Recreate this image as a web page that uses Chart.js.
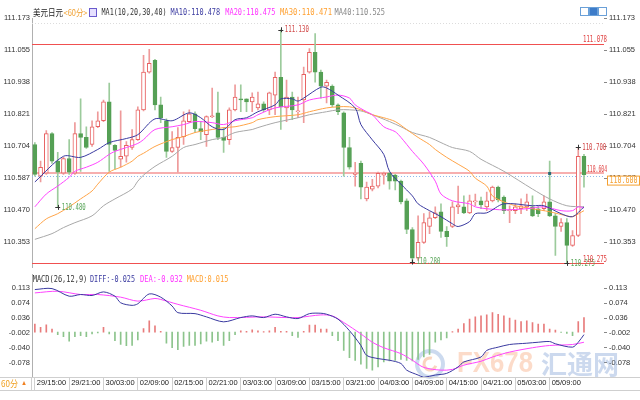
<!DOCTYPE html>
<html>
<head>
<meta charset="utf-8">
<script src="https://cdn.jsdelivr.net/npm/chart.js@4.4.1/dist/chart.umd.min.js"></script>
<style>
  html, body { margin: 0; padding: 0; background: #fff; }
  #wrap { position: relative; width: 640px; height: 400px; overflow: hidden; }
  #kline { position: absolute; left: 0; top: 0; }
  #macd { position: absolute; left: 0; top: 268px; }
</style>
</head>
<body>
<div id="wrap">
  <canvas id="kline" width="640" height="274"></canvas>
  <canvas id="macd" width="640" height="123"></canvas>
</div>
<script>
// 美元日元 60分钟K线
const tickLabels = ['29/15:00', '29/21:00', '30/03:00', '02/09:00', '02/15:00', '02/21:00', '03/03:00', '03/09:00',
  '03/15:00', '03/21:00', '04/03:00', '04/09:00', '04/15:00', '04/21:00', '05/03:00', '05/09:00'];

const opens = [
  110.710, 110.594, 110.605, 110.750, 110.649, 110.605, 110.659, 110.605, 110.750, 110.736,
  110.710, 110.775, 110.797, 110.866, 110.707, 110.656, 110.667, 110.699, 110.728, 110.837,
  110.975, 111.018, 110.855, 110.797, 110.685, 110.699, 110.739, 110.794, 110.822, 110.768,
  110.746, 110.812, 110.826, 110.736, 110.728, 110.837, 110.877, 110.877, 110.866, 110.844,
  110.859, 110.837, 110.891, 110.956, 110.844, 110.884, 110.830, 110.873, 110.975, 111.047,
  110.975, 110.924, 110.924, 110.855, 110.826, 110.699, 110.601, 110.641, 110.511, 110.547,
  110.558, 110.598, 110.605, 110.598, 110.576, 110.504, 110.399, 110.294, 110.352, 110.410,
  110.442, 110.464, 110.392, 110.410, 110.482, 110.482, 110.460, 110.500, 110.504, 110.482,
  110.504, 110.554, 110.518, 110.468, 110.468, 110.475, 110.482, 110.482, 110.475, 110.475,
  110.500, 110.449, 110.410, 110.424, 110.341, 110.377, 110.667];
const highs = [
  110.717, 110.649, 110.761, 110.754, 110.681, 110.663, 110.728, 110.790, 110.877, 110.775,
  110.797, 110.830, 110.873, 110.935, 110.710, 110.833, 110.721, 110.765, 110.848, 111.036,
  111.058, 111.022, 110.884, 110.804, 110.757, 110.772, 110.830, 110.837, 110.830, 110.794,
  110.815, 110.917, 110.902, 110.772, 110.844, 110.928, 110.928, 110.877, 110.899, 110.902,
  110.866, 110.902, 110.975, 111.130, 110.946, 110.902, 110.884, 110.993, 111.061, 111.116,
  110.982, 110.946, 110.928, 110.859, 110.830, 110.736, 110.645, 110.649, 110.573, 110.583,
  110.609, 110.609, 110.609, 110.601, 110.580, 110.511, 110.406, 110.449, 110.457, 110.464,
  110.482, 110.493, 110.410, 110.500, 110.558, 110.522, 110.525, 110.529, 110.518, 110.536,
  110.558, 110.558, 110.522, 110.486, 110.493, 110.511, 110.529, 110.522, 110.486, 110.522,
  110.649, 110.457, 110.439, 110.439, 110.395, 110.700, 110.674];
const lows = [
  110.594, 110.573, 110.601, 110.641, 110.480, 110.601, 110.601, 110.601, 110.612, 110.696,
  110.703, 110.772, 110.794, 110.612, 110.620, 110.627, 110.645, 110.692, 110.725, 110.833,
  110.971, 110.837, 110.790, 110.663, 110.681, 110.609, 110.710, 110.790, 110.754, 110.728,
  110.703, 110.808, 110.728, 110.681, 110.710, 110.833, 110.830, 110.830, 110.830, 110.837,
  110.830, 110.819, 110.819, 110.765, 110.794, 110.801, 110.808, 110.790, 110.971, 110.938,
  110.880, 110.862, 110.848, 110.819, 110.594, 110.620, 110.558, 110.511, 110.504, 110.540,
  110.551, 110.565, 110.547, 110.544, 110.493, 110.384, 110.280, 110.286, 110.348, 110.384,
  110.439, 110.370, 110.337, 110.406, 110.457, 110.457, 110.457, 110.486, 110.475, 110.468,
  110.500, 110.500, 110.457, 110.424, 110.457, 110.457, 110.468, 110.446, 110.446, 110.468,
  110.446, 110.304, 110.392, 110.275, 110.337, 110.373, 110.554];
const closes = [
  110.601, 110.627, 110.750, 110.649, 110.609, 110.659, 110.609, 110.750, 110.736, 110.699,
  110.775, 110.797, 110.866, 110.710, 110.688, 110.667, 110.707, 110.728, 110.837, 110.975,
  111.007, 110.855, 110.808, 110.685, 110.699, 110.736, 110.797, 110.822, 110.768, 110.757,
  110.812, 110.815, 110.736, 110.725, 110.837, 110.884, 110.873, 110.866, 110.884, 110.859,
  110.837, 110.899, 110.956, 110.848, 110.884, 110.837, 110.833, 110.967, 111.047, 110.975,
  110.924, 110.938, 110.855, 110.830, 110.699, 110.627, 110.605, 110.554, 110.554, 110.558,
  110.605, 110.605, 110.576, 110.576, 110.500, 110.399, 110.294, 110.352, 110.424, 110.442,
  110.460, 110.392, 110.373, 110.482, 110.489, 110.460, 110.504, 110.504, 110.489, 110.504,
  110.554, 110.507, 110.468, 110.471, 110.482, 110.486, 110.500, 110.449, 110.457, 110.500,
  110.449, 110.410, 110.424, 110.341, 110.377, 110.667, 110.600];

// 均线读数 [K线序号, 值]
const ma10 = [[0, 110.573], [5, 110.667], [8, 110.663], [11, 110.692], [13, 110.717], [16, 110.732], [18, 110.746],
  [21, 110.804], [24, 110.797], [27, 110.826], [29, 110.808], [31, 110.775], [33, 110.765], [35, 110.801], [37, 110.808],
  [39, 110.830], [42, 110.855], [43, 110.877], [45, 110.877], [46, 110.869], [47, 110.880], [50, 110.920], [51, 110.917],
  [53, 110.891], [56, 110.844], [57, 110.783], [59, 110.727], [61, 110.674], [62, 110.612], [64, 110.565], [66, 110.522],
  [67, 110.493], [69, 110.468], [71, 110.446], [73, 110.420], [74, 110.410], [76, 110.428], [77, 110.457], [79, 110.460],
  [82, 110.493], [87, 110.486], [89, 110.486], [92, 110.457], [94, 110.446], [96, 110.482]];
const ma20 = [[0, 110.482], [2, 110.529], [4, 110.558], [6, 110.590], [7, 110.612], [9, 110.627], [11, 110.645],
  [13, 110.674], [14, 110.685], [16, 110.699], [18, 110.714], [19, 110.728], [21, 110.765], [24, 110.775], [26, 110.783],
  [28, 110.794], [31, 110.790], [33, 110.783], [35, 110.797], [38, 110.808], [39, 110.819], [42, 110.844], [46, 110.855],
  [48, 110.873], [51, 110.884], [53, 110.891], [55, 110.880], [56, 110.855], [58, 110.830], [59, 110.819], [61, 110.775],
  [63, 110.757], [64, 110.736], [66, 110.685], [68, 110.638], [70, 110.576], [71, 110.529], [73, 110.504], [76, 110.493],
  [77, 110.482], [79, 110.475], [82, 110.471], [86, 110.475], [89, 110.482], [92, 110.468], [94, 110.468], [95, 110.482],
  [96, 110.478]];
const ma30 = [[0, 110.402], [2, 110.438], [4, 110.457], [6, 110.482], [8, 110.511], [10, 110.540], [11, 110.565],
  [13, 110.609], [15, 110.627], [17, 110.649], [18, 110.667], [19, 110.678], [21, 110.703], [24, 110.728], [26, 110.739],
  [28, 110.754], [31, 110.765], [33, 110.772], [35, 110.775], [38, 110.790], [39, 110.801], [42, 110.812], [46, 110.819],
  [48, 110.830], [51, 110.844], [53, 110.848], [55, 110.848], [57, 110.837], [59, 110.819], [61, 110.808], [63, 110.794],
  [65, 110.765], [67, 110.736], [69, 110.710], [70, 110.692], [72, 110.663], [74, 110.638], [76, 110.612], [77, 110.587],
  [79, 110.558], [80, 110.522], [82, 110.500], [84, 110.486], [87, 110.475], [90, 110.464], [93, 110.449], [94, 110.446],
  [96, 110.468]];
const ma40 = [[0, 110.363], [3, 110.384], [5, 110.406], [7, 110.424], [10, 110.449], [12, 110.486], [14, 110.511],
  [17, 110.547], [18, 110.576], [19, 110.598], [21, 110.630], [24, 110.667], [26, 110.699], [28, 110.710], [31, 110.728],
  [33, 110.736], [35, 110.754], [38, 110.765], [39, 110.772], [42, 110.790], [46, 110.808], [48, 110.819], [51, 110.830],
  [53, 110.837], [55, 110.837], [57, 110.833], [59, 110.819], [62, 110.794], [64, 110.775], [66, 110.754], [69, 110.736],
  [71, 110.717], [73, 110.699], [76, 110.685], [78, 110.656], [82, 110.612], [87, 110.547], [90, 110.511], [93, 110.486],
  [96, 110.482]];
const maLegend = [110.478, 110.475, 110.471, 110.525];

const priceTicks = [111.173, 111.055, 110.938, 110.821, 110.704, 110.587, 110.470, 110.353];
const rangeHigh = 111.078;
const rangeLow = 110.275;
const lastPrice = 110.604;
const curPrice = 110.600;
// 标注 [K线序号, 高/低点]
const marks = [[43, 'high'], [4, 'low'], [66, 'low'], [93, 'low'], [95, 'high']];

// MACD(26,12,9)
const macdTicks = [0.113, 0.074, 0.036, -0.002, -0.040, -0.078];
const diff = [[0, 0.109], [3, 0.1115], [6, 0.092], [8, 0.0963], [10, 0.0938], [12, 0.103], [14, 0.092], [15, 0.0751],
  [17, 0.0685], [18, 0.0726], [20, 0.0978], [22, 0.0895], [24, 0.0668], [25, 0.0498], [28, 0.0473], [30, 0.039],
  [33, 0.0263], [36, 0.0372], [38, 0.0415], [40, 0.0372], [42, 0.0458], [44, 0.039], [46, 0.0347], [48, 0.0473],
  [50, 0.0483], [51, 0.0458], [53, 0.0332], [55, 0.0036], [57, -0.0343], [58, -0.0596], [60, -0.0679], [62, -0.0722],
  [64, -0.0805], [65, -0.0975], [67, -0.1101], [68, -0.116], [70, -0.1101], [72, -0.1058], [74, -0.0891], [75, -0.0765],
  [78, -0.0639], [79, -0.047], [81, -0.0386], [83, -0.0318], [86, -0.0285], [88, -0.026], [90, -0.0242], [91, -0.030],
  [94, -0.0386], [95, -0.026], [96, -0.0065]];
const dea = [[0, 0.1004], [4, 0.1047], [8, 0.0963], [11, 0.0963], [15, 0.0895], [18, 0.0794], [21, 0.0862], [22, 0.0837],
  [25, 0.0711], [29, 0.0559], [32, 0.0415], [34, 0.0372], [40, 0.039], [44, 0.0372], [46, 0.0372], [50, 0.044],
  [52, 0.0415], [54, 0.0246], [57, -0.0047], [59, -0.026], [61, -0.0401], [64, -0.0553], [66, -0.0722], [68, -0.0906],
  [71, -0.0975], [73, -0.0957], [75, -0.0848], [78, -0.0747], [80, -0.0639], [83, -0.0512], [87, -0.0401], [90, -0.0343],
  [94, -0.0318], [96, -0.026]];
const macdBars = [
  0.0205, 0.0119, 0.0187, 0.0078, -0.0066, -0.0116, -0.0235, -0.0116, -0.0091, -0.0116,
  -0.0048, -0.0023, 0.0119, -0.0048, -0.0217, -0.0318, -0.0351, -0.0344, -0.0200, 0.0093,
  0.0288, 0.0162, 0.0018, -0.0285, -0.0402, -0.0452, -0.0369, -0.0344, -0.0344, -0.0301,
  -0.0235, -0.0260, -0.0217, -0.0344, -0.0217, -0.0066, 0.0035, 0.0018, 0.0061, 0.0035,
  0.0010, 0.0035, 0.0119, 0.0018, 0.0018, -0.0091, -0.0134, 0.0018, 0.0179, 0.0179,
  0.0078, 0.0078, -0.0091, -0.0217, -0.0470, -0.0654, -0.0723, -0.0824, -0.0932, -0.0975,
  -0.0892, -0.0766, -0.0740, -0.0723, -0.0700, -0.0723, -0.0740, -0.0700, -0.0639, -0.0571,
  -0.0260, -0.0200, -0.0149, 0.0010, 0.0078, 0.0220, 0.0331, 0.0389, 0.0414, 0.0440,
  0.0498, 0.0457, 0.0414, 0.0356, 0.0306, 0.0270, 0.0288, 0.0245, 0.0205, 0.0205,
  0.0078, 0.0053, -0.0010, -0.0033, -0.0091, 0.0270, 0.0371];
const macdLegend = [-0.025, -0.032, 0.015];

// 100个位置, 右侧留空
const slots = Array.from({ length: 100 }, (_, i) => i);
const MACD_TOP = 268;
const SANS = "'Liberation Sans', Arial, sans-serif";
const MONO = "'DejaVu Sans Mono', monospace";
const CJK = "'Noto Sans CJK SC', sans-serif";

const up = i => closes[i] >= opens[i];
const pts = arr => arr.map(([i, v]) => ({ x: i, y: v }));

function fitText(ctx, text, x, y, w, color, font) {
  ctx.save();
  ctx.font = font;
  ctx.fillStyle = color;
  ctx.textBaseline = 'middle';
  ctx.textAlign = 'left';
  const m = ctx.measureText(text).width;
  ctx.translate(x, y);
  ctx.scale(w / m, 1);
  ctx.fillText(text, 0, 0);
  ctx.restore();
}

function hline(ctx, x0, x1, y, color, width, dash) {
  ctx.save();
  ctx.strokeStyle = color;
  ctx.lineWidth = width;
  ctx.setLineDash(dash || []);
  const yy = width % 2 ? Math.round(y) + 0.5 : Math.round(y);
  ctx.beginPath();
  ctx.moveTo(x0, yy);
  ctx.lineTo(x1, yy);
  ctx.stroke();
  ctx.restore();
}

const klineDeco = {
  id: 'klineDeco',
  beforeDatasetsDraw(chart) {
    const { ctx, chartArea: a, scales: { y } } = chart;
    hline(ctx, a.left, a.right, 23, '#dcdcdc', 1, [1, 2]);
    hline(ctx, a.left, a.right, y.getPixelForValue(lastPrice), 'rgba(240,110,110,0.55)', 2);
    hline(ctx, a.left, a.right, y.getPixelForValue(curPrice) + 1.5, '#8fb8ea', 1, [1, 2]);
    hline(ctx, a.left, a.right, y.getPixelForValue(rangeHigh), '#f05050', 1);
    hline(ctx, a.left, a.right, y.getPixelForValue(rangeLow), '#f05050', 1);
  },
  afterDraw(chart) {
    const { ctx, scales: { x, y } } = chart;
    // 图例
    fitText(ctx, '美元日元', 33, 13, 30, '#222', '9px ' + CJK);
    fitText(ctx, '<60分>', 63.5, 13, 24, '#f0a030', '9px ' + CJK);
    ctx.save();
    ctx.fillStyle = '#e6e0ff';
    ctx.strokeStyle = '#6a5acd';
    ctx.fillRect(89.5, 8.5, 7, 8);
    ctx.strokeRect(89.5, 8.5, 7, 8);
    ctx.restore();
    fitText(ctx, 'MA1(10,20,30,40)', 101.5, 13, 65, '#333', '9px ' + MONO);
    fitText(ctx, 'MA10:' + maLegend[0].toFixed(3), 170.5, 13, 49.5, '#3a3aa0', '9px ' + MONO);
    fitText(ctx, 'MA20:' + maLegend[1].toFixed(3), 225.3, 13, 50, '#ff33ff', '9px ' + MONO);
    fitText(ctx, 'MA30:' + maLegend[2].toFixed(3), 280, 13, 52, '#ffa030', '9px ' + MONO);
    fitText(ctx, 'MA40:' + maLegend[3].toFixed(3), 334.5, 13, 50.5, '#888', '9px ' + MONO);
    // 右上按钮
    ctx.save();
    [[580, '#fff'], [589, '#3d7cc9'], [598, '#fff']].forEach(([bx, fill]) => {
      ctx.fillStyle = fill;
      ctx.strokeStyle = '#6aa0d8';
      ctx.fillRect(bx + 0.5, 7.5, 8, 8);
      ctx.strokeRect(bx + 0.5, 7.5, 8, 8);
    });
    ctx.restore();

    // 价位标签
    const yHi = y.getPixelForValue(rangeHigh);
    const yLo = y.getPixelForValue(rangeLow);
    const yLast = y.getPixelForValue(lastPrice);
    const yCur = y.getPixelForValue(curPrice);
    fitText(ctx, rangeHigh.toFixed(3), 583, yHi - 4, 24, '#e04040', '9px ' + MONO);
    fitText(ctx, lastPrice.toFixed(3), 587, yLast - 4, 20, '#e04040', '9px ' + MONO);

    // 高低点标注
    marks.forEach(([i, side]) => {
      const px = x.getPixelForValue(i);
      const v = side === 'high' ? highs[i] : lows[i];
      const py = y.getPixelForValue(v);
      ctx.save();
      ctx.strokeStyle = '#333';
      ctx.lineWidth = 1;
      ctx.beginPath();
      ctx.moveTo(px - 2.5, Math.round(py) + 0.5);
      ctx.lineTo(px + 2.5, Math.round(py) + 0.5);
      ctx.moveTo(Math.round(px) + 0.5, py - 2.5);
      ctx.lineTo(Math.round(px) + 0.5, py + 2.5);
      ctx.stroke();
      ctx.restore();
      fitText(ctx, v.toFixed(3), px + 4, py, 24, side === 'high' ? '#d04545' : '#58a558', '9px ' + MONO);
    });
    fitText(ctx, rangeLow.toFixed(3), 583, yLo - 3.5, 24, '#e04040', '9px ' + MONO);

    // 当前价方块
    ctx.save();
    ctx.fillStyle = '#2a6a7a';
    ctx.fillRect(x.getPixelForValue(90) - 1.5, yLast - 1.5, 3, 3);
    ctx.fillStyle = '#fff';
    ctx.strokeStyle = '#f5a030';
    ctx.fillRect(607.5, yCur + 1.5, 32, 9);
    ctx.strokeRect(607.5, yCur + 1.5, 32, 9);
    ctx.restore();
    fitText(ctx, curPrice.toFixed(3).slice(0, 6) + '0', 609.5, yCur + 6, 28, '#f5a030', '9px ' + MONO);
  }
};

const yAxisBase = {
  min: 110.26,
  max: 111.173,
  afterBuildTicks: s => { s.ticks = priceTicks.map(v => ({ value: v })); },
  ticks: { callback: v => v.toFixed(3), color: '#333', font: { family: SANS, size: 7.5 }, padding: 2 }
};

new Chart(document.getElementById('kline'), {
  type: 'bar',
  data: {
    labels: slots,
    datasets: [
      { type: 'line', data: pts(ma10), borderColor: '#3a3aa0', borderWidth: 1, pointRadius: 0, spanGaps: true, tension: 0.3, order: 0 },
      { type: 'line', data: pts(ma20), borderColor: '#ff44ff', borderWidth: 1, pointRadius: 0, spanGaps: true, tension: 0.3, order: 0 },
      { type: 'line', data: pts(ma30), borderColor: '#ffa448', borderWidth: 1, pointRadius: 0, spanGaps: true, tension: 0.3, order: 0 },
      { type: 'line', data: pts(ma40), borderColor: '#a8a8a8', borderWidth: 1, pointRadius: 0, spanGaps: true, tension: 0.3, order: 0 },
      {
        data: opens.map((o, i) => [o, closes[i]]),
        backgroundColor: c => up(c.dataIndex) ? '#ffffff' : '#55a055',
        borderColor: c => up(c.dataIndex) ? '#e86060' : '#55a055',
        borderWidth: 1,
        borderSkipped: false,
        barThickness: 4,
        grouped: false,
        order: 2
      },
      {
        data: lows.map((l, i) => [l, highs[i]]),
        backgroundColor: c => up(c.dataIndex) ? '#ee9a9a' : '#9ccb9c',
        borderWidth: 0,
        barThickness: 1,
        grouped: false,
        order: 3
      }
    ]
  },
  options: {
    responsive: false,
    animation: false,
    devicePixelRatio: 1,
    layout: { padding: { top: 18, bottom: 5, left: 0, right: 0 } },
    plugins: { legend: { display: false }, tooltip: { enabled: false } },
    scales: {
      x: { display: false, offset: true },
      y: {
        ...yAxisBase,
        position: 'left',
        afterFit: s => { s.width = 32; },
        grid: { display: false, drawTicks: false },
        border: { display: true, dash: [1, 2], color: '#b0b0b0' }
      },
      y2: {
        ...yAxisBase,
        position: 'right',
        afterFit: s => { s.width = 36; },
        grid: { drawOnChartArea: false, drawTicks: true, tickLength: 3, color: '#888' },
        border: { display: false }
      }
    }
  },
  plugins: [klineDeco]
});

const macdDeco = {
  id: 'macdDeco',
  beforeDatasetsDraw(chart) {
    const { ctx } = chart;
    // 水印
    ctx.save();
    ctx.strokeStyle = 'rgba(110,150,210,0.35)';
    ctx.lineWidth = 4;
    ctx.beginPath();
    ctx.arc(430, 364 - MACD_TOP, 13, 0, Math.PI * 2);
    ctx.stroke();
    ctx.strokeStyle = 'rgba(245,160,110,0.45)';
    ctx.lineWidth = 3;
    ctx.beginPath();
    ctx.arc(430, 364 - MACD_TOP, 6, 0.3, Math.PI * 1.6);
    ctx.stroke();
    ctx.restore();
    fitText(ctx, 'FX678', 457, 364 - MACD_TOP, 76, 'rgba(248,175,135,0.45)', 'bold 30px ' + SANS);
    fitText(ctx, '汇通网', 541, 364 - MACD_TOP, 78, 'rgba(110,145,205,0.35)', 'bold 26px ' + CJK);
  },
  afterDraw(chart) {
    const { ctx } = chart;
    const ly = 280 - MACD_TOP;
    fitText(ctx, 'MACD(26,12,9)', 32.7, ly, 54.6, '#333', '9px ' + MONO);
    fitText(ctx, 'DIFF:' + macdLegend[0].toFixed(3), 90, ly, 45, '#3a3aa0', '9px ' + MONO);
    fitText(ctx, 'DEA:' + macdLegend[1].toFixed(3), 140, ly, 42.7, '#ff33ff', '9px ' + MONO);
    fitText(ctx, 'MACD:' + macdLegend[2].toFixed(3), 186.7, ly, 41.6, '#ffa030', '9px ' + MONO);
    const a = chart.chartArea;
    hline(ctx, 0, 640, a.bottom, '#cfcfcf', 1);
    hline(ctx, 0, 640, a.bottom + 13, '#cfcfcf', 1);
    ctx.save();
    ctx.strokeStyle = '#cfcfcf';
    ctx.beginPath();
    ctx.moveTo(31.5, a.bottom);
    ctx.lineTo(31.5, a.bottom + 13);
    ctx.stroke();
    ctx.restore();
    fitText(ctx, '60分', 1, a.bottom + 6.5, 17, '#f0a020', '9px ' + CJK);
    fitText(ctx, '▲', 21, a.bottom + 6, 6, '#f08020', '7px ' + SANS);
  }
};

const macdAxisBase = {
  min: -0.1151,
  max: 0.1476,
  afterBuildTicks: s => { s.ticks = macdTicks.map(v => ({ value: v })); },
  ticks: { callback: v => v.toFixed(3), color: '#333', font: { family: SANS, size: 7.5 }, padding: 2 }
};

new Chart(document.getElementById('macd'), {
  type: 'bar',
  data: {
    labels: slots,
    datasets: [
      { type: 'line', data: pts(diff), borderColor: '#3a3aa0', borderWidth: 1, pointRadius: 0, spanGaps: true, tension: 0.3, order: 0 },
      { type: 'line', data: pts(dea), borderColor: '#ff44ff', borderWidth: 1, pointRadius: 0, spanGaps: true, tension: 0.3, order: 0 },
      {
        data: macdBars,
        backgroundColor: c => macdBars[c.dataIndex] >= 0 ? '#e87c7c' : '#8cc48c',
        borderWidth: 0,
        barThickness: 1,
        order: 2
      }
    ]
  },
  options: {
    responsive: false,
    animation: false,
    devicePixelRatio: 1,
    layout: { padding: { top: 5, bottom: 0, left: 0, right: 0 } },
    plugins: { legend: { display: false }, tooltip: { enabled: false } },
    scales: {
      x: {
        offset: true,
        afterFit: s => { s.height = 14; },
        afterBuildTicks: s => { s.ticks = s.ticks.filter(t => t.value % 6 === 0 && t.value <= 90); },
        ticks: {
          callback: v => tickLabels[v / 6],
          autoSkip: false,
          maxRotation: 0,
          align: 'start',
          labelOffset: 2,
          padding: -12,
          color: '#222',
          font: { family: SANS, size: 7.5 }
        },
        grid: { drawOnChartArea: false, drawTicks: true, tickLength: 13, offset: false, color: '#d0d0d0' },
        border: { display: false }
      },
      y: {
        ...macdAxisBase,
        position: 'left',
        afterFit: s => { s.width = 32; },
        grid: { display: false, drawTicks: false },
        border: { display: true, dash: [1, 2], color: '#b0b0b0' }
      },
      y2: {
        ...macdAxisBase,
        position: 'right',
        afterFit: s => { s.width = 36; },
        grid: { drawOnChartArea: false, drawTicks: true, tickLength: 3, color: '#888' },
        border: { display: false }
      }
    }
  },
  plugins: [macdDeco]
});
</script>
</body>
</html>
